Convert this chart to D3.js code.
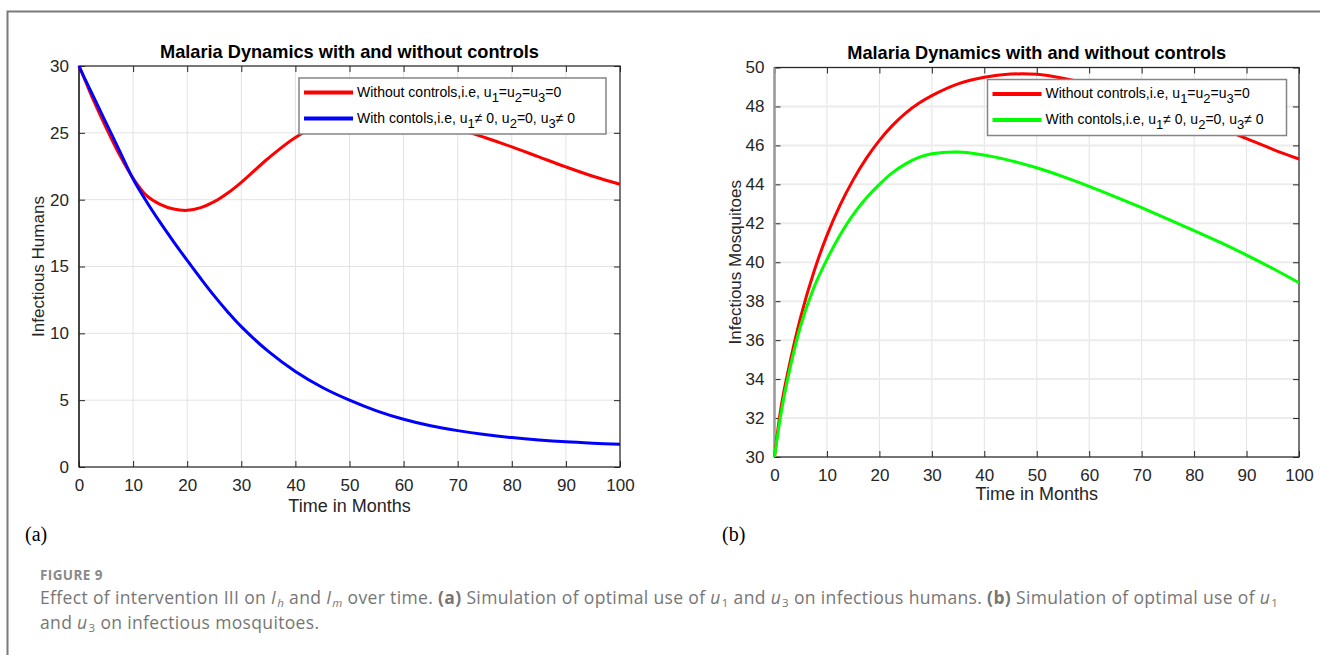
<!DOCTYPE html>
<html>
<head>
<meta charset="utf-8">
<script src="https://cdn.jsdelivr.net/npm/d3@7"></script>
<style>
  body { margin: 0; background: #fff; }
  svg { display: block; }
</style>
</head>
<body>
<svg id="svg1" width="1320" height="655"></svg>
<script>
// time points (months) shared by both panels
var months = [0, 1.25, 2.5, 5, 7.5, 10, 12.5, 15, 17.5, 20, 22.5, 25, 27.5, 30, 35, 40, 45, 50, 55, 60, 65, 70, 75, 80, 85, 90, 95, 100];

// panel (a): infectious humans
var humansNoControl = [30, 28.8, 27.6, 25.4, 23.35, 21.6, 20.3, 19.65, 19.3, 19.2, 19.4, 19.85, 20.5, 21.3, 23.1, 24.65, 25.7, 26.25, 26.4, 26.25, 25.85, 25.3, 24.65, 23.95, 23.2, 22.45, 21.75, 21.15];
var humansControl = [30, 28.9, 27.85, 25.75, 23.65, 21.55, 19.85, 18.3, 16.85, 15.45, 14.1, 12.8, 11.6, 10.5, 8.65, 7.15, 5.95, 5.0, 4.2, 3.57, 3.08, 2.72, 2.43, 2.2, 2.02, 1.88, 1.78, 1.70];

// panel (b): infectious mosquitoes
var mosqNoControl = [30, 32.55, 34.3, 37.2, 39.5, 41.38, 42.93, 44.23, 45.33, 46.26, 47.03, 47.66, 48.16, 48.56, 49.16, 49.5, 49.66, 49.65, 49.45, 49.15, 48.8, 48.35, 47.9, 47.4, 46.9, 46.35, 45.8, 45.3];
var mosqControl = [30, 32.25, 34.0, 36.75, 38.7, 40.15, 41.4, 42.45, 43.3, 44.0, 44.6, 45.05, 45.38, 45.57, 45.66, 45.5, 45.22, 44.85, 44.4, 43.9, 43.36, 42.8, 42.22, 41.63, 41.02, 40.37, 39.68, 38.95];

var xTicks = [0, 10, 20, 30, 40, 50, 60, 70, 80, 90, 100];
var humanTicks = [0, 5, 10, 15, 20, 25, 30];
var mosqTicks = [30, 32, 34, 36, 38, 40, 42, 44, 46, 48, 50];

var title = 'Malaria Dynamics with and without controls';
// legend labels, [text, isSubscript]
var labelNoControl = [['Without controls,i.e, u', 0], ['1', 1], ['=u', 0], ['2', 1], ['=u', 0], ['3', 1], ['=0', 0]];
var labelControl = [['With contols,i.e, u', 0], ['1', 1], ['\u2260  0, u', 0], ['2', 1], ['=0, u', 0], ['3', 1], ['\u2260  0', 0]];

var svg = d3.select('svg');
var font = '"Liberation Sans", Arial, Helvetica, sans-serif';

// outer frame of the figure box (top and left edges)
svg.append('path')
    .attr('d', 'M1320,11.5 H7.5 V655')
    .attr('fill', 'none')
    .attr('stroke', '#7a7a7a')
    .attr('stroke-width', 2);

function drawPanel(p) {
    var x = d3.scaleLinear().domain([0, 100]).range([p.left, p.right]);
    var y = d3.scaleLinear().domain(p.yDomain).range([p.bottom, p.top]);
    var g = svg.append('g');

    // grid
    g.selectAll('.gx').data(xTicks).enter().append('line')
        .attr('x1', function(d){ return x(d); })
        .attr('x2', function(d){ return x(d); })
        .attr('y1', p.top).attr('y2', p.bottom)
        .attr('stroke', '#e3e3e3').attr('stroke-width', 1);
    g.selectAll('.gy').data(p.yTicks).enter().append('line')
        .attr('x1', p.left).attr('x2', p.right)
        .attr('y1', function(d){ return y(d); })
        .attr('y2', function(d){ return y(d); })
        .attr('stroke', p.gridY).attr('stroke-width', p.gridYWidth);

    // axes, ticks pointing inward on all four sides
    var axisStyle = function(sel) {
        sel.attr('font-family', null).attr('font-size', null);
        sel.select('.domain').remove();
        sel.selectAll('.tick line').attr('stroke', '#262626');
        sel.selectAll('.tick text')
            .attr('fill', '#262626')
            .style('font-family', font)
            .style('font-size', '17px');
    };
    g.append('g').attr('transform', 'translate(0,' + p.bottom + ')')
        .call(d3.axisBottom(x).tickValues(xTicks).tickSize(-6).tickPadding(12).tickFormat(d3.format('d')))
        .call(axisStyle);
    g.append('g').attr('transform', 'translate(0,' + p.top + ')')
        .call(d3.axisTop(x).tickValues(xTicks).tickSize(-6).tickFormat(''))
        .call(axisStyle);
    g.append('g').attr('transform', 'translate(' + p.left + ',0)')
        .call(d3.axisLeft(y).tickValues(p.yTicks).tickSize(-6).tickPadding(10).tickFormat(d3.format('d')))
        .call(axisStyle);
    g.append('g').attr('transform', 'translate(' + p.right + ',0)')
        .call(d3.axisRight(y).tickValues(p.yTicks).tickSize(-6).tickFormat(''))
        .call(axisStyle);

    g.append('rect')
        .attr('x', p.left).attr('y', p.top)
        .attr('width', p.right - p.left).attr('height', p.bottom - p.top)
        .attr('fill', 'none').attr('stroke', '#262626').attr('stroke-width', 1.2);
    g.append('line')
        .attr('x1', p.left).attr('x2', p.left)
        .attr('y1', p.top).attr('y2', p.bottom)
        .attr('stroke', p.leftAxisColor).attr('stroke-width', p.leftAxisWidth);

    // the two curves
    var line = d3.line()
        .x(function(d, i){ return x(months[i]); })
        .y(function(d){ return y(d); })
        .curve(d3.curveCatmullRom.alpha(0.5));

    p.series.forEach(function(s) {
        g.append('path')
            .datum(s.values)
            .attr('d', line)
            .attr('fill', 'none')
            .attr('stroke', s.color)
            .attr('stroke-width', 3);
    });

    // title and axis labels
    g.append('text')
        .attr('x', (p.left + p.right) / 2).attr('y', p.top - 8.5)
        .attr('text-anchor', 'middle')
        .style('font-family', font).style('font-size', '18.2px').style('font-weight', 'bold')
        .attr('fill', '#000')
        .text(title);
    g.append('text')
        .attr('x', (p.left + p.right) / 2).attr('y', p.bottom + p.xLabelGap)
        .attr('text-anchor', 'middle')
        .style('font-family', font).style('font-size', '18px')
        .attr('fill', '#262626')
        .text('Time in Months');
    g.append('text')
        .attr('transform', 'translate(' + p.yLabelX + ',' + ((p.top + p.bottom) / 2) + ') rotate(-90)')
        .attr('text-anchor', 'middle')
        .style('font-family', font).style('font-size', '17px')
        .attr('fill', '#262626')
        .text(p.yLabel);

    // legend
    var lg = g.append('g').attr('transform', 'translate(' + p.legendX + ',' + (p.top + 12) + ')');
    lg.append('rect')
        .attr('width', p.legendW).attr('height', 56)
        .attr('fill', '#fff').attr('stroke', '#858585').attr('stroke-width', 1.5);
    p.series.forEach(function(s, i) {
        var ly = 14.5 + i * 26;
        lg.append('line')
            .attr('x1', 5).attr('x2', 54)
            .attr('y1', ly).attr('y2', ly)
            .attr('stroke', s.color).attr('stroke-width', 4);
        var t = lg.append('text')
            .attr('x', 58).attr('y', ly + 4)
            .style('font-family', font).style('font-size', '14px')
            .attr('fill', '#000');
        var shifted = 0;
        s.label.forEach(function(part) {
            var dy = part[1] ? 5 - shifted : -shifted;
            shifted = part[1] ? 5 : 0;
            t.append('tspan')
                .attr('dy', dy)
                .style('font-size', part[1] ? '13px' : '14px')
                .text(part[0]);
        });
    });
}

drawPanel({
    left: 79, right: 620, top: 66, bottom: 467,
    yDomain: [0, 30], yTicks: humanTicks,
    yLabel: 'Infectious Humans', yLabelX: 44, xLabelGap: 45,
    legendX: 299, legendW: 307,
    gridY: '#e3e3e3', gridYWidth: 1,
    leftAxisColor: '#262626', leftAxisWidth: 1.2,
    series: [
        {values: humansNoControl, color: '#ff0000', label: labelNoControl},
        {values: humansControl, color: '#0000ff', label: labelControl}
    ]
});

drawPanel({
    left: 774.5, right: 1299, top: 67.5, bottom: 457,
    yDomain: [30, 50], yTicks: mosqTicks,
    yLabel: 'Infectious Mosquitoes', yLabelX: 741, xLabelGap: 43,
    legendX: 987.5, legendW: 299,
    gridY: '#ececec', gridYWidth: 2,
    leftAxisColor: '#9a9a9a', leftAxisWidth: 2.5,
    series: [
        {values: mosqNoControl, color: '#ff0000', label: labelNoControl},
        {values: mosqControl, color: '#00ff00', label: labelControl}
    ]
});

// panel letters
svg.append('text').attr('x', 25).attr('y', 541)
    .style('font-family', '"Liberation Serif", "Times New Roman", serif').style('font-size', '20px')
    .text('(a)');
svg.append('text').attr('x', 722).attr('y', 541)
    .style('font-family', '"Liberation Serif", "Times New Roman", serif').style('font-size', '20px')
    .text('(b)');

// caption
var capFont = '"Open Sans", Lato, sans-serif';
svg.append('text').attr('x', 40).attr('y', 580)
    .style('font-family', capFont).style('font-size', '13.5px').style('font-weight', 'bold')
    .style('letter-spacing', '0.4px')
    .attr('fill', '#8a8a8a')
    .text('FIGURE 9');

var cap1 = svg.append('text').attr('x', 40).attr('y', 603.5)
    .style('font-family', capFont).style('font-size', '17.5px').style('letter-spacing', '0.35px')
    .attr('fill', '#767676');
var cap2 = svg.append('text').attr('x', 40).attr('y', 629)
    .style('font-family', capFont).style('font-size', '17.5px').style('letter-spacing', '0.35px')
    .attr('fill', '#767676');

// caption pieces: [text, style] where style is n(ormal), b(old), i(talic), s(ubscript)
var caption1 = [['Effect of intervention III on ', 'n'], ['I', 'i'], ['h', 's'], [' and ', 'n'], ['I', 'i'], ['m', 's'],
    [' over time. ', 'n'], ['(a)', 'b'], [' Simulation of optimal use of ', 'n'], ['u', 'i'], ['1', 's'], [' and ', 'n'],
    ['u', 'i'], ['3', 's'], [' on infectious humans. ', 'n'], ['(b)', 'b'], [' Simulation of optimal use of ', 'n'], ['u', 'i'], ['1', 's']];
var caption2 = [['and ', 'n'], ['u', 'i'], ['3', 's'], [' on infectious mosquitoes.', 'n']];

function fillCaption(t, parts) {
    var down = 0;
    parts.forEach(function(part) {
        var sp = t.append('tspan').text(part[0]);
        var isSub = part[1] === 's';
        sp.attr('dy', isSub ? 3 : (down ? -3 : 0));
        if (isSub) sp.attr('dx', 1);
        down = isSub ? 1 : 0;
        if (isSub) sp.style('font-size', '11.5px').style('font-style', part[0] === 'h' || part[0] === 'm' ? 'italic' : 'normal');
        if (part[1] === 'i') sp.style('font-style', 'italic');
        if (part[1] === 'b') sp.style('font-weight', 'bold');
    });
}
fillCaption(cap1, caption1);
fillCaption(cap2, caption2);
</script>
</body>
</html>
